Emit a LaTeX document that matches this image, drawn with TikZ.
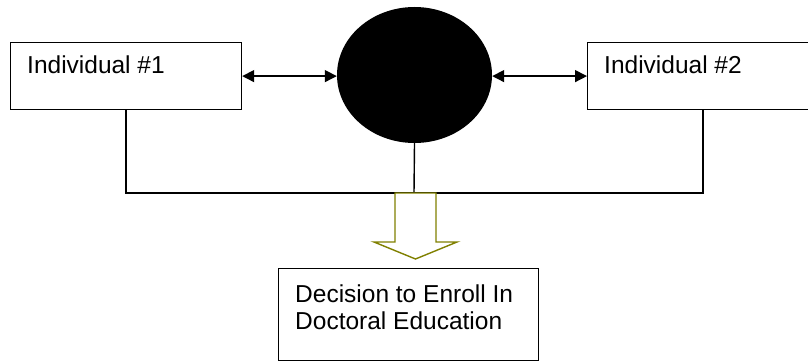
\documentclass[tikz,border=0pt]{standalone}
\usepackage{fontspec}
\setmainfont{Liberation Sans}
\usetikzlibrary{shapes.geometric,arrows.meta,calc}
\definecolor{arrowolive}{RGB}{128,128,0}
\tikzset{
  box/.style={draw=black, line width=1.2pt, inner sep=0pt, anchor=north west},
  label text/.style={inner sep=0pt, anchor=base west, font=\fontsize{24.5}{27}\selectfont},
  link/.style={draw=black, line width=1.4pt},
  dbl/.style={link, {Triangle[length=12pt,width=12pt]}-{Triangle[length=12pt,width=12pt]}},
}
\begin{document}
\begin{tikzpicture}[x=1pt, y=-1pt]
  \useasboundingbox (0,0) rectangle (808,361);

  % the two individuals and the shared influence between them
  \node[box, minimum width=231pt, minimum height=67pt] (b1) at (10,42) {};
  \node[box, minimum width=231pt, minimum height=67pt] (b2) at (587,42) {};
  \node[ellipse, fill=black, inner sep=0pt, minimum width=155pt, minimum height=136pt] (ell) at (414.5,75) {};
  \node[box, minimum width=260pt, minimum height=92pt] (b3) at (278,268) {};

  \node[label text] (t1) at (27,74) {Individual \#1};
  \node[label text] (t2) at (604,74) {Individual \#2};
  \node[label text] (t3) at (295,302) {Decision to Enroll In};
  \node[label text] (t4) at (295,329) {Doctoral Education};

  % two-way links
  \draw[dbl] (b1.east) -- (b1.east -| ell.west);
  \draw[dbl] (ell.east |- b2.west) -- (b2.west);

  % joining bar
  \coordinate (mid) at (414,193);
  \draw[link] (b1.south) |- (mid) -| (b2.south);
  \draw[link] (ell.south) -- (mid);

  % hollow block arrow down to the decision box
  \draw[arrowolive, line width=1.4pt, fill=white, line join=miter]
    ($(mid)+(-19,0)$) -- ++(0,49) -- ++(-21,0) -- ($(mid)+(1.5,66)$)
    -- ($(mid)+(43,49)$) -- ++(-21,0) -- ($(mid)+(22,0)$) -- cycle;
\end{tikzpicture}
\end{document}
